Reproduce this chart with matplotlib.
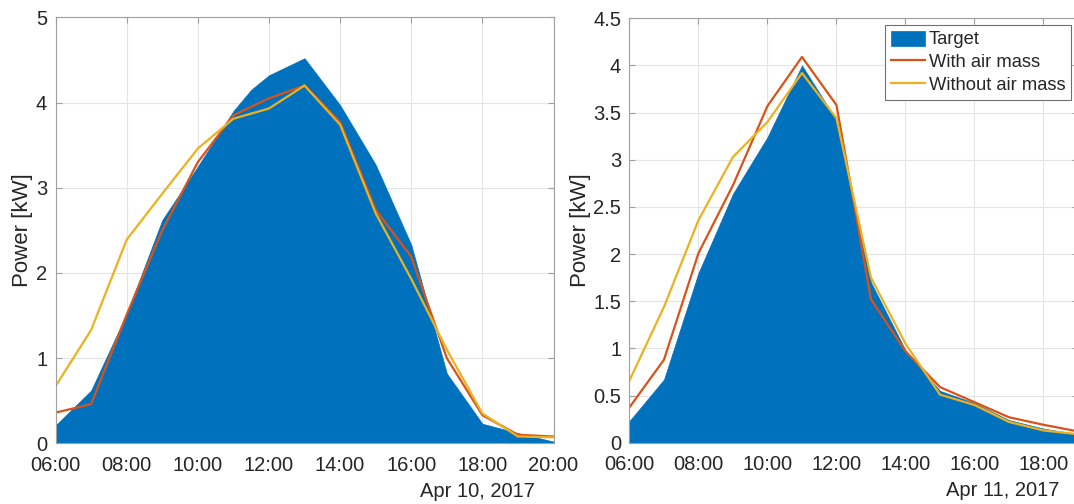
import matplotlib
matplotlib.use("Agg")
import matplotlib.pyplot as plt
import matplotlib.dates as mdates
from matplotlib.ticker import FormatStrFormatter
import numpy as np

plt.rcParams['font.family'] = ['Liberation Sans', 'DejaVu Sans']

# --- Apr 10, 2017 ---
day1 = '2017-04-10'
day1_hours = [6, 7, 8, 9, 10, 11, 12, 13, 14, 15, 16, 17, 18, 19, 20]
day1_target_times = ['06:00', '07:00', '08:00', '09:00', '10:00', '11:00', '11:30', '12:00',
                     '12:30', '13:00', '14:00', '15:00', '16:00', '17:00', '18:00', '19:00', '20:00']
day1_target = [0.21, 0.62, 1.52, 2.62, 3.25, 3.90, 4.15, 4.32,
               4.42, 4.52, 3.97, 3.27, 2.33, 0.82, 0.23, 0.12, 0.02]
day1_with_am = [0.36, 0.46, 1.51, 2.50, 3.30, 3.85, 4.05, 4.20, 3.77, 2.74, 2.19, 1.00, 0.33, 0.10, 0.08]
day1_without_am = [0.67, 1.33, 2.39, 2.93, 3.46, 3.81, 3.93, 4.20, 3.74, 2.70, 1.93, 1.10, 0.35, 0.08, 0.07]

# --- Apr 11, 2017 ---
day2 = '2017-04-11'
day2_hours = [6, 7, 8, 9, 10, 11, 12, 13, 14, 15, 16, 17, 18, 19, 20]
day2_target = [0.23, 0.67, 1.80, 2.64, 3.24, 4.00, 3.42, 1.70, 0.98, 0.55, 0.42, 0.24, 0.15, 0.09, 0.06]
day2_with_am = [0.375, 0.88, 2.01, 2.73, 3.57, 4.09, 3.58, 1.52, 0.97, 0.59, 0.43, 0.27, 0.19, 0.12, 0.09]
day2_without_am = [0.66, 1.44, 2.36, 3.03, 3.40, 3.92, 3.44, 1.75, 1.05, 0.51, 0.40, 0.22, 0.13, 0.09, 0.07]

c_target = '#0072BD'
c_with = '#D95319'
c_without = '#EDB120'
spine_col = '#a0a0a0'
text_col = '#262626'


def to_times(day, hours):
    return np.array([np.datetime64(day + 'T%02d:00' % h) for h in hours])


def style_axes(ax, day, xend, ymax, ystep, date_text, ylabel_x):
    ax.set_xlim(mdates.date2num(np.datetime64(day + 'T06:00')),
                mdates.date2num(np.datetime64(day + 'T%02d:00' % xend)))
    ax.set_ylim(0, ymax)
    ax.xaxis.set_major_locator(mdates.HourLocator(byhour=range(0, 24, 2)))
    ax.xaxis.set_major_formatter(mdates.DateFormatter('%H:%M'))
    ax.set_yticks(np.arange(0, ymax + 0.001, ystep))
    ax.yaxis.set_major_formatter(FormatStrFormatter('%g'))
    ax.grid(True, color='#e4e4e4', linewidth=0.8)
    ax.set_axisbelow(True)
    for s in ax.spines.values():
        s.set_color(spine_col)
        s.set_linewidth(0.8)
        s.set_zorder(5)
    ax.tick_params(direction='in', top=True, right=True, length=4, width=0.8,
                   color=spine_col, labelcolor=text_col, labelsize=14.5)
    ax.tick_params(axis='x', pad=9)
    ax.tick_params(axis='y', pad=6)
    ax.set_ylabel('Power [kW]', fontsize=16, color=text_col, va='center')
    ax.yaxis.set_label_coords(ylabel_x, 0.5)
    ax.annotate(date_text, xy=(1, 0), xycoords='axes fraction', xytext=(-19, -48),
                textcoords='offset pixels', ha='right', va='center', fontsize=14.5, color=text_col)


fig = plt.figure(figsize=(10.74, 5.04), dpi=100)

# left panel
ax1 = fig.add_axes([0.0517, 0.1204, 0.4637, 0.8452])
t1 = np.array([np.datetime64(day1 + 'T' + s) for s in day1_target_times])
x1 = to_times(day1, day1_hours)
ax1.fill_between(t1, day1_target, 0, color=c_target, edgecolor=c_target, linewidth=0.5, label='Target')
ax1.plot(x1, day1_with_am, color=c_with, linewidth=1.6, label='With air mass')
ax1.plot(x1, day1_without_am, color=c_without, linewidth=1.6, label='Without air mass')
style_axes(ax1, day1, 20, 5, 1, 'Apr 10, 2017', -0.0673)

# right panel
ax2 = fig.add_axes([0.5861, 0.1216, 0.4176, 0.8421])
x2 = to_times(day2, day2_hours)
ax2.fill_between(x2, day2_target, 0, color=c_target, edgecolor=c_target, linewidth=0.5, label='Target')
ax2.plot(x2, day2_with_am, color=c_with, linewidth=1.6, label='With air mass')
ax2.plot(x2, day2_without_am, color=c_without, linewidth=1.6, label='Without air mass')
style_axes(ax2, day2, 19, 4.5, 0.5, 'Apr 11, 2017', -0.110)

leg = ax2.legend(loc='upper right', bbox_to_anchor=(1070.7 / 1074, 1 - 25 / 504),
                 bbox_transform=fig.transFigure, borderaxespad=0, fontsize=13.2,
                 fancybox=False, framealpha=1, edgecolor='#707070',
                 labelspacing=0.27, handlelength=1.85, handleheight=0.9,
                 handletextpad=0.2, borderpad=0.3)
leg.get_frame().set_linewidth(0.8)
leg.set_zorder(10)
for txt in leg.get_texts():
    txt.set_color(text_col)

fig.savefig('out.png', dpi=100)
